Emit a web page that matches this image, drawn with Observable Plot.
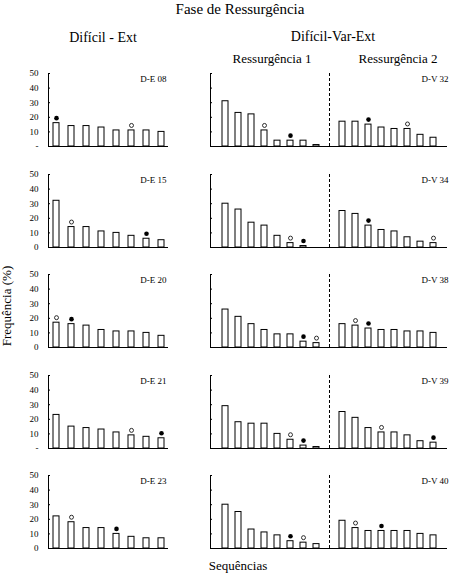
<!DOCTYPE html>
<html><head><meta charset="utf-8">
<script src="https://cdn.jsdelivr.net/npm/d3@7"></script>
<script src="https://cdn.jsdelivr.net/npm/@observablehq/plot@0.6"></script>
<style>
html,body{margin:0;padding:0;background:#fff;}
#chart{position:relative;width:456px;height:573px;overflow:hidden;background:#fff;}
#chart svg{position:absolute;overflow:visible;}
</style></head><body><div id="chart"></div>
<script>
// ---- data ----
const sequences = ["1","2","3","4","5","6","7","8"];
const yTicks = [0, 10, 20, 30, 40, 50];
const phases = ["Ressurgência 1", "Ressurgência 2"];

const deLabels = ["D-E 08", "D-E 15", "D-E 20", "D-E 21", "D-E 23"];
const deZeroLabels = ["-", "0", "0", "-", "0"];
const de08 = [16, 14, 14, 13, 11, 11, 11, 10];
const de15 = [32, 14, 14, 11, 10, 8, 6, 5];
const de20 = [17, 16, 15, 12, 11, 11, 10, 8];
const de21 = [23, 15, 14, 13, 11, 9, 8, 7];
const de23 = [22, 18, 14, 14, 10, 8, 7, 7];
const deFilled = [1, 7, 2, 8, 5];   // sequence carrying the filled marker
const deOpen   = [6, 2, 1, 6, 2];   // sequence carrying the open marker

const dvLabels = ["D-V 32", "D-V 34", "D-V 38", "D-V 39", "D-V 40"];
const dv32R1 = [31, 23, 22, 11, 4, 4, 4, 1];
const dv32R2 = [17, 17, 15, 13, 12, 12, 8, 6];
const dv34R1 = [30, 26, 17, 15, 8, 3, 1, 0];
const dv34R2 = [25, 23, 15, 12, 11, 7, 4, 3];
const dv38R1 = [26, 21, 16, 12, 9, 9, 4, 3];
const dv38R2 = [16, 15, 13, 12, 12, 11, 11, 10];
const dv39R1 = [29, 18, 17, 17, 10, 6, 2, 1];
const dv39R2 = [25, 21, 14, 11, 11, 9, 5, 4];
const dv40R1 = [30, 25, 13, 11, 9, 5, 4, 3];
const dv40R2 = [19, 14, 12, 12, 12, 12, 10, 9];
const dvFilledR1 = [6, 7, 7, 7, 6];
const dvOpenR1   = [4, 6, 8, 6, 7];
const dvFilledR2 = [3, 3, 3, 8, 4];
const dvOpenR2   = [6, 8, 2, 4, 2];

const deValues = [de08, de15, de20, de21, de23];
const dvValuesR1 = [dv32R1, dv34R1, dv38R1, dv39R1, dv40R1];
const dvValuesR2 = [dv32R2, dv34R2, dv38R2, dv39R2, dv40R2];

// ---- layout ----
const chart = document.getElementById("chart");
const FONT = "'Liberation Serif', 'Times New Roman', serif";
const rowStep = 100.6, firstBase = 146;
const panelH = 90, mTop = 12, mBottom = 5;

function place(el, left, top) {
  el.style.position = "absolute";
  el.style.left = left + "px";
  el.style.top = top + "px";
  chart.appendChild(el);
}

const gapKey = "gap";
const rightDomain = [...sequences.map(s => "R1-" + s), gapKey, ...sequences.map(s => "R2-" + s)];

for (let i = 0; i < 5; i++) {
  const top = firstBase + i * rowStep - (panelH - mBottom);

  // left panel (Difícil - Ext)
  const rows = sequences.map((s, j) => ({key: s, value: deValues[i][j]}));
  const left = Plot.plot({
    width: 175, height: panelH,
    marginLeft: 48, marginRight: 7, marginTop: mTop, marginBottom: mBottom,
    style: {fontFamily: FONT, fontSize: "9px", color: "black", background: "transparent"},
    x: {type: "band", domain: sequences, paddingInner: 0.6, paddingOuter: 0.24, axis: null},
    y: {domain: [0, 50], ticks: yTicks, tickSize: -2, tickPadding: 12, line: true, label: null,
        tickFormat: d => d === 0 ? deZeroLabels[i] : String(d)},
    marks: [
      Plot.ruleY([0], {stroke: "black"}),
      Plot.barY(rows, {x: "key", y: "value", fill: "white", stroke: "black", strokeWidth: 1}),
      Plot.dot(rows.filter((d, j) => j + 1 === deFilled[i]), {x: "key", y: "value", dy: -5, r: 2.3, fill: "black", stroke: "none"}),
      Plot.dot(rows.filter((d, j) => j + 1 === deOpen[i]), {x: "key", y: "value", dy: -5, r: 2, fill: "white", stroke: "black", strokeWidth: 0.8}),
      Plot.text([deLabels[i]], {frameAnchor: "top-right", textAnchor: "end", lineAnchor: "middle", dx: -2, dy: 5.5, fill: "black"})
    ]
  });
  place(left, 0, top);

  // right panel (Difícil-Var-Ext)
  const rrows = [
    ...sequences.map((s, j) => ({key: "R1-" + s, value: dvValuesR1[i][j], phase: 1, seq: j + 1})),
    ...sequences.map((s, j) => ({key: "R2-" + s, value: dvValuesR2[i][j], phase: 2, seq: j + 1}))
  ];
  const filled = rrows.filter(d => (d.phase === 1 && d.seq === dvFilledR1[i]) || (d.phase === 2 && d.seq === dvFilledR2[i]));
  const open = rrows.filter(d => (d.phase === 1 && d.seq === dvOpenR1[i]) || (d.phase === 2 && d.seq === dvOpenR2[i]));
  const right = Plot.plot({
    width: 256, height: panelH,
    marginLeft: 10, marginRight: 9, marginTop: mTop, marginBottom: mBottom,
    style: {fontFamily: FONT, fontSize: "9px", color: "black", background: "transparent"},
    x: {type: "band", domain: rightDomain, paddingInner: 0.57, paddingOuter: 0.28, axis: null},
    y: {domain: [0, 50], ticks: yTicks, tickSize: -2, tickPadding: 12, line: true, label: null,
        tickFormat: () => ""},
    marks: [
      Plot.ruleX([gapKey], {stroke: "black", strokeWidth: 1, strokeDasharray: "3,2"}),
      Plot.ruleY([0], {stroke: "black"}),
      Plot.barY(rrows, {x: "key", y: "value", fill: "white", stroke: "black", strokeWidth: 1}),
      Plot.dot(filled, {x: "key", y: "value", dy: -5, r: 2.3, fill: "black", stroke: "none"}),
      Plot.dot(open, {x: "key", y: "value", dy: -5, r: 2, fill: "white", stroke: "black", strokeWidth: 0.8}),
      Plot.text([dvLabels[i]], {frameAnchor: "top-right", textAnchor: "end", lineAnchor: "middle", dx: 1, dy: 5.5, fill: "black"})
    ]
  });
  place(right, 200, top);
}

// ---- titles (real text) ----
const titles = [
  {text: "Fase de Ressurgência", x: 240, y: 13.5, size: 15},
  {text: "Difícil - Ext", x: 103, y: 41.5, size: 14},
  {text: "Difícil-Var-Ext", x: 333, y: 41, size: 14},
  {text: phases[0], x: 272, y: 63, size: 13},
  {text: phases[1], x: 398, y: 63, size: 13},
  {text: "Sequências", x: 238, y: 569.5, size: 13}
];
const overlay = d3.create("svg").attr("width", 456).attr("height", 573)
  .style("left", "0px").style("top", "0px").style("pointer-events", "none")
  .attr("font-family", FONT).attr("fill", "black");
overlay.selectAll("text.t").data(titles).join("text")
  .attr("class", "t")
  .attr("x", d => d.x).attr("y", d => d.y)
  .attr("text-anchor", "middle").attr("font-size", d => d.size)
  .text(d => d.text);
overlay.append("text")
  .attr("transform", "translate(11,306) rotate(-90)")
  .attr("text-anchor", "middle").attr("font-size", 13)
  .text("Frequência (%)");
chart.appendChild(overlay.node());
</script>
</body></html>
